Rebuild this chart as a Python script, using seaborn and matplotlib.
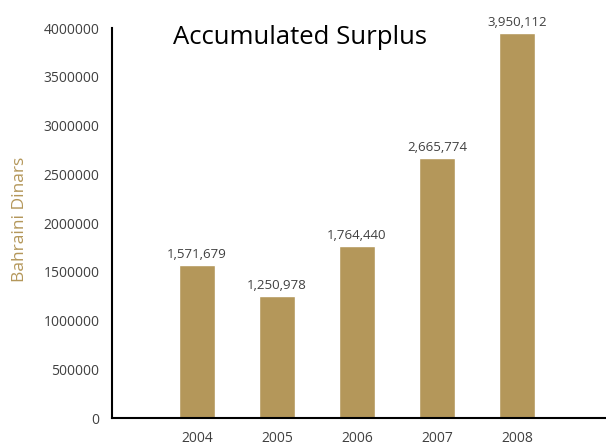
import matplotlib
matplotlib.use("Agg")
import matplotlib.pyplot as plt
import seaborn as sns
import pandas as pd

years = ["2004", "2005", "2006", "2007", "2008"]
surplus = [1571679, 1250978, 1764440, 2665774, 3950112]
yticks = [0, 500000, 1000000, 1500000, 2000000, 2500000, 3000000, 3500000, 4000000]

bar_color = "#B4975A"
text_gray = "#404040"

sns.set_theme(style="white")
plt.rcParams["font.family"] = ["Open Sans", "DejaVu Sans"]

df = pd.DataFrame({"year": years, "surplus": surplus})

fig = plt.figure(figsize=(6.06, 4.48), dpi=100)
W, H = 606, 448
ax = fig.add_axes([112 / W, (H - 418) / H, (606 - 112) / W, (418 - 28) / H])

sns.barplot(data=df, x="year", y="surplus", color=bar_color, width=0.45,
            saturation=1, ax=ax)

ax.set_xlim(-1.06, 5.11)
ax.set_ylim(0, 4000000)
ax.set_yticks(yticks)
ax.set_yticklabels([str(v) for v in yticks])

for i, v in enumerate(surplus):
    ax.annotate(f"{v:,}", (i, v), xytext=(0, 3), textcoords="offset points",
                ha="center", va="bottom", fontsize=9.5, color=text_gray)

ax.text(173 / W, 1 - 25 / H, "Accumulated Surplus", transform=fig.transFigure,
        fontsize=18.5, color="black", ha="left", va="top")

ax.set_xlabel("")
ax.set_ylabel("Bahraini Dinars", fontsize=12.5, color=bar_color)
ax.yaxis.set_label_coords(-0.17, 0.51)
ax.tick_params(axis="both", length=0, labelsize=10, labelcolor=text_gray)
ax.tick_params(axis="x", pad=9)
ax.tick_params(axis="y", pad=9)

for side in ["top", "right"]:
    ax.spines[side].set_visible(False)
for side in ["left", "bottom"]:
    ax.spines[side].set_color("black")
    ax.spines[side].set_linewidth(1.5)

fig.savefig("out.png", dpi=100)
